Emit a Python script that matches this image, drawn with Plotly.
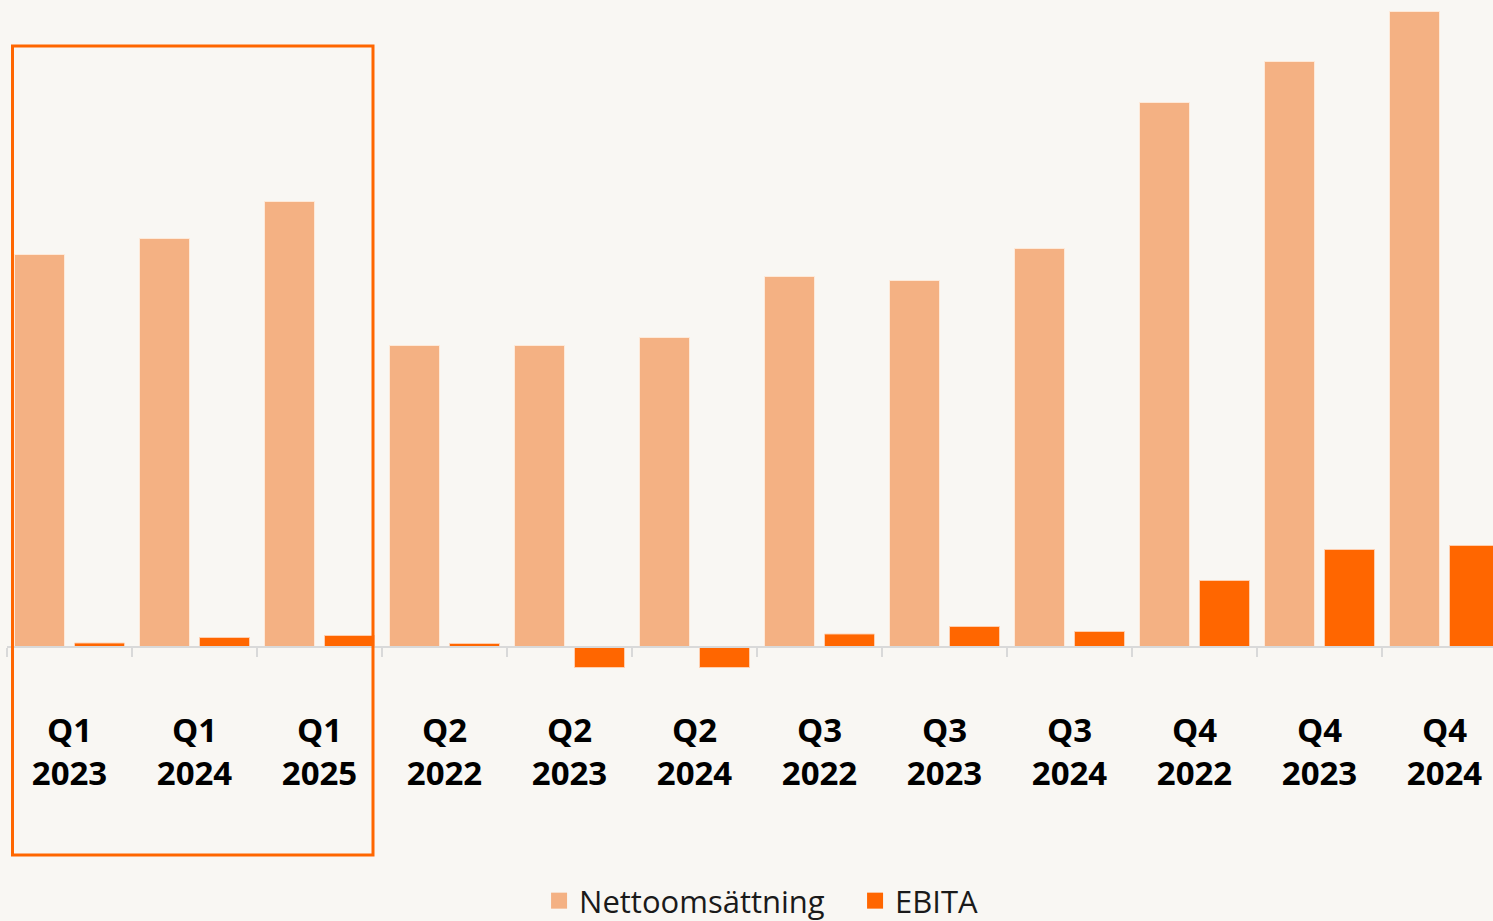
import plotly.graph_objects as go

quarters = ["Q1", "Q1", "Q1", "Q2", "Q2", "Q2", "Q3", "Q3", "Q3", "Q4", "Q4", "Q4"]
years = ["2023", "2024", "2025", "2022", "2023", "2024", "2022", "2023", "2024", "2022", "2023", "2024"]
categories = [f"{q} {y}" for q, y in zip(quarters, years)]
tick_labels = [f"<b>{q}<br>{y}</b>" for q, y in zip(quarters, years)]

nettoomsattning = [392, 408, 445, 301, 301, 309, 370, 366, 398, 544, 585, 635]
ebita = [3.5, 9, 11, 3, -21, -21, 12.5, 20, 15, 66, 97, 101]

C_NET = "#F4B183"
C_EBITA = "#FF6600"
BG = "#F9F7F3"
FONT = "Open Sans"

fig = go.Figure()
fig.add_trace(go.Bar(x=categories, y=nettoomsattning, name="Nettoomsättning",
                     marker=dict(color=C_NET, line=dict(color="rgba(255,235,220,0.9)", width=1)),
                     showlegend=False))
fig.add_trace(go.Bar(x=categories, y=ebita, name="EBITA",
                     marker=dict(color=C_EBITA, line=dict(color="rgba(255,210,180,0.9)", width=1)),
                     showlegend=False))
# legend entries
fig.add_trace(go.Scatter(x=[None], y=[None], mode="markers", name="Nettoomsättning",
                         marker=dict(symbol="square", size=20, color=C_NET)))
fig.add_trace(go.Scatter(x=[None], y=[None], mode="markers", name="EBITA",
                         marker=dict(symbol="square", size=20, color=C_EBITA)))

W, H = 1493, 921
zero_px = 646.5
fig.update_layout(
    width=W, height=H,
    margin=dict(l=7, r=0, t=0, b=0, autoexpand=False),
    paper_bgcolor=BG, plot_bgcolor=BG,
    barmode="group", bargap=0.04, bargroupgap=0.1667,
    font=dict(family=FONT, color="#000000"),
    xaxis=dict(
        type="category",
        range=[-0.5, 11.388],
        anchor="free", position=(H - zero_px) / H,
        showline=True, linecolor="#D9D9D9", linewidth=2,
        ticks="outside", tickson="boundaries", ticklen=9, tickwidth=2, tickcolor="#D9D9D9",
        tickmode="array", tickvals=categories, ticktext=tick_labels,
        tickfont=dict(family=FONT, size=33, color="#000000"),
        ticklabelstandoff=55,
        showgrid=False, zeroline=False, fixedrange=True,
    ),
    yaxis=dict(
        range=[zero_px - H, zero_px],
        visible=False, showgrid=False, zeroline=False, fixedrange=True,
    ),
    legend=dict(
        orientation="h", x=0.5707, xanchor="center", y=(H - 901) / H, yanchor="middle",
        font=dict(family=FONT, size=31, color="#1a1a1a"),
        bgcolor="rgba(0,0,0,0)", itemwidth=30, entrywidth=271,
    ),
    shapes=[dict(
        type="rect", xref="x", yref="paper",
        x0=-0.456, x1=2.428, y0=1 - 855 / H, y1=1 - 46 / H,
        line=dict(color=C_EBITA, width=3), fillcolor="rgba(0,0,0,0)",
    )],
)

fig.write_html("out.html", config={"displayModeBar": False},
               post_script="document.body.style.margin='0px';")
